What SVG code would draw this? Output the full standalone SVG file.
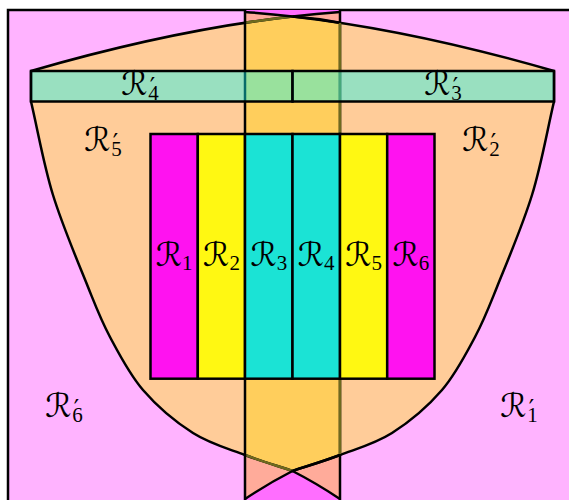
<svg xmlns="http://www.w3.org/2000/svg" width="569" height="500" viewBox="0 0 569 500">
<defs>
<clipPath id="strip"><rect x="245" y="10" width="95" height="500"/></clipPath>
<style>
.ln{fill:none;stroke:#000;stroke-width:2.5;stroke-linejoin:round}
.ol{fill:none;stroke:#6e6a1e;stroke-width:2.5}
.col{stroke:#000;stroke-width:2.5}
.mg{fill:#ff12f0}
.yl{fill:#fff812}
.cy{fill:#1be3d5}
.lab{font-family:"DejaVu Sans",sans-serif;font-size:33px;fill:#000;text-anchor:middle}
.sub{font-family:"Liberation Serif","DejaVu Serif",serif;font-size:21px}
.pr{font-family:"DejaVu Sans",sans-serif;font-size:24px}
</style>
<path id="bowl" d="M31,71 Q171.8,30.17 292.5,16.42 Q413.2,30.17 554,71 L554,101.5 C546.7,132.7 541.5,164.1 532,195 C522.5,225.9 506.5,263.3 497,287 C487.5,310.7 484.2,319.8 475,337 C465.8,354.2 455.8,374 442,390 C428.2,406 409,422.2 392,433 C375,443.8 356.6,448.7 340,455 C323.4,461.3 308.3,465.7 292.5,471 C276.7,465.7 261.6,461.3 245,455 C228.4,448.7 210,443.8 193,433 C176,422.2 156.8,406 143,390 C129.2,374 119.2,354.2 110,337 C100.8,319.8 97.5,310.7 88,287 C78.5,263.3 62.5,225.9 53,195 C43.5,164.1 38.3,132.7 31,101.5 Z"/>
</defs>

<g id="background">
<rect x="8" y="10" width="600" height="520" fill="#ffb3ff" stroke="#000" stroke-width="2.5"/>
</g>

<g id="bowl-region">
<use href="#bowl" fill="#ffcc99"/>
</g>

<g id="strip-region" clip-path="url(#strip)">
<rect x="245" y="10" width="95" height="500" fill="#ffab9a"/>
<path d="M245,8 H340 V12 Q316.7,13.67 292.5,16.42 Q268.3,13.67 245,12 Z" fill="#ff6eff"/>
<path d="M245,499 Q269,483 292.5,471 Q316,483 340,499 V510 H245 Z" fill="#ff6eff"/>
<use href="#bowl" fill="#ffce5c"/>
</g>

<g id="connectors">
<use href="#bowl" class="ln"/>
<g clip-path="url(#strip)">
<path class="ol" d="M31,71 Q171.8,30.17 292.5,16.42"/>
<path class="ol" d="M245,455 C261.6,461.3 276.7,465.7 292.5,471"/>
</g>
<path class="ln" d="M340,455 C323.4,461.3 308.3,465.7 292.5,471"/>
<path class="ln" d="M340,22.76 Q316,18 292.5,16.42"/>
<path class="ln" d="M292.5,16.42 Q316.7,13.67 340,12"/>
<path class="ln" d="M292.5,16.42 Q268.3,13.67 245,12"/>
<path class="ln" d="M292.5,471 Q316,483 340,499"/>
<path class="ln" d="M292.5,471 Q269,483 245,499"/>
<line class="ln" x1="340" y1="10" x2="340" y2="500"/>
<line class="ol" x1="340" y1="23" x2="340" y2="454"/>
<line class="ln" x1="245" y1="10" x2="245" y2="500"/>
</g>

<g id="R1"><rect class="col mg" x="150.5" y="134" width="47.3" height="244.7"/><text class="lab" x="174.2" y="266">ℛ<tspan class="sub" dy="4">1</tspan></text></g>
<g id="R2"><rect class="col yl" x="197.8" y="134" width="47.2" height="244.7"/><text class="lab" x="221.5" y="266">ℛ<tspan class="sub" dy="4">2</tspan></text></g>
<g id="R3"><rect class="col cy" x="245" y="134" width="47.5" height="244.7"/><text class="lab" x="268.8" y="266">ℛ<tspan class="sub" dy="4">3</tspan></text></g>
<g id="R4"><rect class="col cy" x="292.5" y="134" width="47.5" height="244.7"/><text class="lab" x="316.2" y="266">ℛ<tspan class="sub" dy="4">4</tspan></text></g>
<g id="R5"><rect class="col yl" x="340" y="134" width="47.2" height="244.7"/><text class="lab" x="363.6" y="266">ℛ<tspan class="sub" dy="4">5</tspan></text></g>
<g id="R6"><rect class="col mg" x="387.2" y="134" width="47.3" height="244.7"/><text class="lab" x="410.9" y="266">ℛ<tspan class="sub" dy="4">6</tspan></text></g>

<g id="R4p"><rect x="31" y="71" width="261.5" height="30.5" fill="rgb(18,251,243)" fill-opacity="0.43" stroke="#000" stroke-width="2.5"/>
<text class="lab" x="140" y="95">ℛ<tspan class="pr" dx="2">′</tspan><tspan class="sub" dx="-7" dy="5">4</tspan></text></g>
<g id="R3p"><rect x="292.5" y="71" width="261.5" height="30.5" fill="rgb(18,251,243)" fill-opacity="0.43" stroke="#000" stroke-width="2.5"/>
<text class="lab" x="443" y="95">ℛ<tspan class="pr" dx="2">′</tspan><tspan class="sub" dx="-7" dy="5">3</tspan></text></g>

<g id="R5p"><text class="lab" x="103" y="151">ℛ<tspan class="pr" dx="2">′</tspan><tspan class="sub" dx="-7" dy="5">5</tspan></text></g>
<g id="R2p"><text class="lab" x="481" y="151">ℛ<tspan class="pr" dx="2">′</tspan><tspan class="sub" dx="-7" dy="5">2</tspan></text></g>
<g id="R6p"><text class="lab" x="64" y="417">ℛ<tspan class="pr" dx="2">′</tspan><tspan class="sub" dx="-7" dy="5">6</tspan></text></g>
<g id="R1p"><text class="lab" x="519" y="417">ℛ<tspan class="pr" dx="2">′</tspan><tspan class="sub" dx="-7" dy="5">1</tspan></text></g>
</svg>
